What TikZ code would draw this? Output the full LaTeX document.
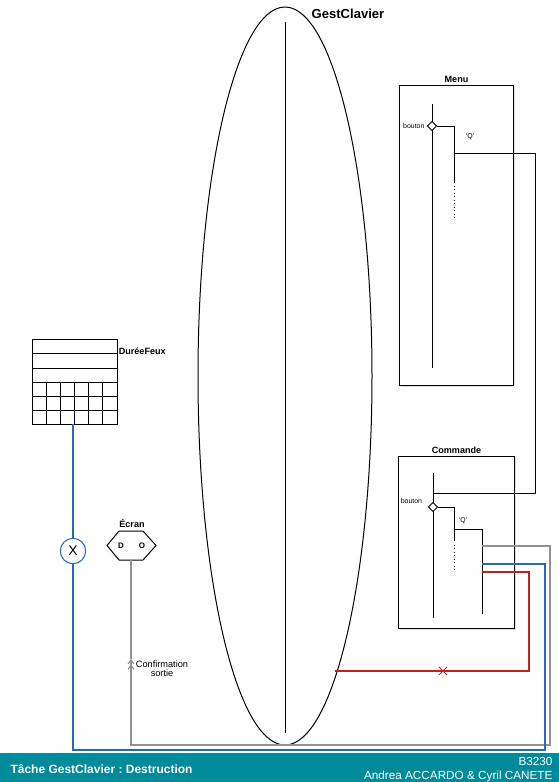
\documentclass[tikz,border=0pt]{standalone}
\usepackage{fontspec}
\setmainfont{Liberation Sans}
\usetikzlibrary{shapes.geometric,arrows.meta,shadows}
\definecolor{bandteal}{RGB}{0,139,155}
\definecolor{blue}{RGB}{35,105,195}
\definecolor{red}{RGB}{190,35,30}
\definecolor{gray}{RGB}{145,145,145}
\tikzset{
  titre/.style={font=\bfseries\fontsize{6.8}{7}\selectfont},
  petit/.style={font=\fontsize{5.2}{6}\selectfont},
  boite/.style={draw, fill=white, anchor=north west, inner sep=0pt,
    drop shadow={opacity=0.25, shadow xshift=0.8pt, shadow yshift=-0.8pt}},
  choix/.style={draw, diamond, fill=white, inner sep=0pt, minimum size=7pt, line width=0.6pt},
  flux/.style={line width=0.82pt},
}
\frenchspacing

\begin{document}
\begin{tikzpicture}[x=0.75pt, y=-0.75pt, line width=0.75pt]
  \useasboundingbox (0,0) rectangle (559,782);
  %% Task GestClavier
  \node[draw, ellipse, minimum width=130.5pt, minimum height=553.5pt, inner sep=0pt] (tache) at (285,376) {};
  \node[font=\bfseries\fontsize{9.8}{10}\selectfont] (nomtache) at (348,14) {GestClavier};
  \coordinate (tacheh) at (285,22);
  \coordinate (tacheb) at (285,733);
  \draw (tacheh) -- (tacheb);

  %% Menu
  \node[boite, minimum width=85.5pt, minimum height=225pt] (menu) at (399,85) {};
  \node[titre, above, inner sep=1.5pt] (nommenu) at (menu.north) {Menu};
  \coordinate (mh) at (432,104);
  \coordinate (mb) at (432,368);
  \draw (mh) -- (mb);
  \node[choix] (mbouton) at (432,126) {};
  \node[petit, left, inner sep=1.5pt] (mlab) at (mbouton.west) {bouton};
  \coordinate (mq) at (454,183);
  \draw (mbouton.east) -| (mq);
  \draw[dotted, line width=0.6pt] (454,186) -- (454,220);
  \node[petit] (mqlab) at (470,137) {`Q'};

  %% Commande
  \node[boite, minimum width=87pt, minimum height=129pt] (cmd) at (398,456) {};
  \node[titre, above, inner sep=1.5pt] (nomcmd) at (cmd.north) {Commande};
  \coordinate (ch) at (433,473);
  \coordinate (cb) at (433,618);
  \draw (ch) -- (cb);
  \node[choix] (cbouton) at (433,507) {};
  \node[petit, anchor=east] (clab) at (427,501) {bouton};
  \coordinate (cq) at (454,541);
  \draw (cbouton.east) -| (cq);
  \draw[dotted, line width=0.6pt] (454,545) -- (454,572);
  \coordinate (cq1) at (454,529);
  \coordinate (cq2) at (482,614);
  \draw (cq1) -| (cq2);
  \node[petit] (cqlab) at (463,521) {`Q'};

  %% Menu -> Commande
  \coordinate (mdep) at (454,153);
  \coordinate (carr) at (433,493);
  \draw (mdep) -- (535,153) |- (carr);

  %% DureeFeux
  \draw (32,339) rectangle (117,424);
  \foreach \y in {353,368,382,396,410}
    \draw (32,\y) -- (117,\y);
  \foreach \x in {46,60,74,88,102}
    \draw (\x,382) -- (\x,424);
  \coordinate (duree) at (73,424);
  \node[titre, anchor=west, inner sep=1pt] (nomduree) at (117,351) {DuréeFeux};

  %% Sortie X
  \node[draw=blue, circle, minimum size=19pt, inner sep=0pt, line width=0.8pt,
    font=\fontsize{10.5}{10.5}\selectfont] (sortie) at (73,551) {X};

  %% Ecran
  \draw (107,545.5) -- (119,531) -- (143,531) -- (156,545.5) -- (143,560) -- (119,560) -- cycle;
  \coordinate (ecran) at (131,560);
  \node[titre] (nomecran) at (132,524) {Écran};
  \node[font=\bfseries\fontsize{6}{6}\selectfont] (ecrand) at (121,546) {D};
  \node[font=\bfseries\fontsize{6}{6}\selectfont] (ecrano) at (142,546) {O};

  %% Flows out of Commande
  \coordinate (cgris) at (482,546);
  \coordinate (conf) at (131,659);
  \draw[gray, flux, -{Straight Barb[length=3pt,width=4.5pt] Straight Barb[length=3pt,width=4.5pt]}]
    (cgris) -- (550,546) -- (550,745) -- (131,745) -- (conf);
  \draw[gray, flux] (conf) -- (ecran);
  \node[align=center, font=\fontsize{6.9}{6.8}\selectfont] (conflab) at (162,669) {Confirmation\\sortie};

  \coordinate (cbleu) at (482,564);
  \draw[blue, flux] (cbleu) -- (545,564) -- (545,750) -- (73,750) -- (sortie.south);
  \draw[blue, flux] (sortie.north) -- (duree);

  \coordinate (crouge) at (482,572);
  \coordinate (perdu) at (335,671);
  \draw[red, flux] (crouge) -- (529,572) -- (529,671) -- (perdu);
  \draw[red, line width=0.7pt] (439,667) -- (447,675) (439,675) -- (447,667);

  %% Footer
  \fill[bandteal] (0,753) rectangle (559,782);
  \node[anchor=west, text=white, inner sep=0pt, font=\bfseries\fontsize{9}{10}\selectfont] (titre) at (10,769) {Tâche GestClavier : Destruction};
  \node[anchor=east, align=right, text=white, inner sep=0pt, font=\fontsize{8.8}{10.5}\selectfont] (auteurs) at (553,770) {B3230\\Andrea ACCARDO \& Cyril CANETE};
\end{tikzpicture}
\end{document}
